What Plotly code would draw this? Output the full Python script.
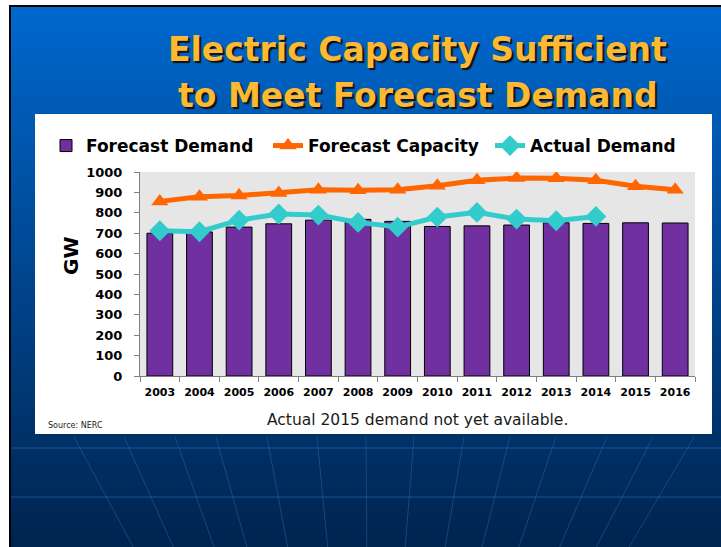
import plotly.graph_objects as go

years = ["2003", "2004", "2005", "2006", "2007", "2008", "2009",
         "2010", "2011", "2012", "2013", "2014", "2015", "2016"]
forecast_demand = [700, 706, 730, 746, 764, 768, 758, 733, 736, 740, 751, 748, 751, 750]
forecast_capacity = [856, 879, 885, 897, 913, 910, 913, 933, 959, 970, 969, 959, 930, 913]
actual_years = ["2003", "2004", "2005", "2006", "2007", "2008", "2009",
                "2010", "2011", "2012", "2013", "2014"]
actual_demand = [712, 707, 764, 794, 789, 753, 730, 779, 802, 769, 761, 782]

W, H = 721, 547
FONT = "DejaVu Sans"

def px(x):
    return x / W

def py(y):
    return 1 - y / H

fig = go.Figure()

fig.add_trace(go.Bar(
    x=years, y=forecast_demand, name="Forecast Demand",
    marker=dict(color="#7030A0", line=dict(color="#000000", width=1)),
))
fig.add_trace(go.Scatter(
    x=years, y=forecast_capacity, name="Forecast Capacity", mode="lines+markers",
    line=dict(color="#FF6600", width=5),
    marker=dict(symbol="triangle-up", size=15, color="#FF6600"),
))
fig.add_trace(go.Scatter(
    x=actual_years, y=actual_demand, name="Actual Demand", mode="lines+markers",
    line=dict(color="#33CCCC", width=5),
    marker=dict(symbol="diamond", size=16, color="#33CCCC"),
))

shapes = []
# background gradient (blue -> navy)
n = 60
top = (0, 104, 206)
bot = (0, 36, 80)
for i in range(n):
    t = i / (n - 1)
    c = tuple(int(round(top[k] + (bot[k] - top[k]) * t)) for k in range(3))
    y0 = H * i / n
    y1 = min(H * (i + 1) / n + 0.6, H)
    shapes.append(dict(type="rect", xref="paper", yref="paper", layer="below",
                       x0=0, x1=1, y0=py(y1), y1=py(y0),
                       line=dict(width=0), fillcolor="rgb(%d,%d,%d)" % c))
# decorative grid lines at the bottom
for yy in (448, 497):
    shapes.append(dict(type="line", xref="paper", yref="paper", layer="below",
                       x0=0, x1=1, y0=py(yy), y1=py(yy),
                       line=dict(color="rgba(60,130,210,0.45)", width=1)))
tops = [74, 124, 175, 216, 267, 317, 366, 414, 464, 510, 556, 607, 653, 694]
cx = 370
for xt in tops:
    xb = cx + (xt - cx) * 0.8
    shapes.append(dict(type="line", xref="paper", yref="paper", layer="below",
                       x0=px(xt), x1=px(xb), y0=py(437), y1=py(547),
                       line=dict(color="rgba(60,130,210,0.35)", width=1)))
# white margin + black edge top/left
shapes.append(dict(type="rect", xref="paper", yref="paper", layer="below",
                   x0=0, x1=1, y0=py(5), y1=1, line=dict(width=0), fillcolor="white"))
shapes.append(dict(type="rect", xref="paper", yref="paper", layer="below",
                   x0=0, x1=px(9), y0=0, y1=1, line=dict(width=0), fillcolor="white"))
shapes.append(dict(type="rect", xref="paper", yref="paper", layer="below",
                   x0=px(9), x1=1, y0=py(7), y1=py(5), line=dict(width=0), fillcolor="black"))
shapes.append(dict(type="rect", xref="paper", yref="paper", layer="below",
                   x0=px(9), x1=px(11), y0=0, y1=py(5), line=dict(width=0), fillcolor="black"))
# white chart panel
shapes.append(dict(type="rect", xref="paper", yref="paper", layer="below",
                   x0=px(35), x1=px(712), y0=py(434), y1=py(114),
                   line=dict(width=0), fillcolor="white"))
# gray plot area
shapes.append(dict(type="rect", xref="x domain", yref="y domain", layer="below",
                   x0=0, x1=1, y0=0, y1=1, line=dict(width=0), fillcolor="#E6E6E6"))

annotations = []
title_lines = [("Electric Capacity Sufficient", 417, 50),
               ("to Meet Forecast Demand", 418, 95)]
for txt, x, y in title_lines:
    annotations.append(dict(text="<b>%s</b>" % txt, xref="paper", yref="paper",
                            x=px(x), y=py(y), showarrow=False,
                            xanchor="center", yanchor="middle",
                            font=dict(family=FONT, size=33, color="#FDB933",
                                      shadow="2px 2px 1px #101010")))
annotations.append(dict(text="<b>GW</b>", xref="paper", yref="paper", textangle=-90,
                        x=px(71), y=py(256), showarrow=False, xanchor="center", yanchor="middle",
                        font=dict(family=FONT, size=20, color="black")))
annotations.append(dict(text="Actual 2015 demand not yet available.", xref="paper", yref="paper",
                        x=px(417), y=py(420), showarrow=False, xanchor="center", yanchor="middle",
                        font=dict(family=FONT, size=15.5, color="#1a1a1a")))
annotations.append(dict(text="Source: NERC", xref="paper", yref="paper",
                        x=px(46), y=py(425), showarrow=False, xanchor="left", yanchor="middle",
                        font=dict(family=FONT, size=8, color="#1a1a1a")))

fig.update_layout(
    width=W, height=H, autosize=False,
    margin=dict(l=0, r=0, t=0, b=0, autoexpand=False),
    paper_bgcolor="#0066CC", plot_bgcolor="rgba(0,0,0,0)",
    shapes=shapes, annotations=annotations,
    bargap=0.35,
    showlegend=True,
    legend=dict(orientation="h", x=px(46), y=py(146), xanchor="left", yanchor="middle",
                font=dict(family=FONT, size=17, color="black", weight="bold"),
                bgcolor="rgba(0,0,0,0)", itemwidth=30, traceorder="normal",
                entrywidth=177),
    xaxis=dict(domain=[px(140), px(695)], type="category",
               range=[-0.5, 13.5], autorange=False, automargin=False,
               showline=True, linecolor="#808080", linewidth=1,
               ticks="outside", tickson="boundaries", ticklen=5, tickcolor="#808080",
               tickangle=0, ticklabelstandoff=6,
               tickfont=dict(family=FONT, size=11, color="black", weight="bold"),
               showgrid=False, zeroline=False, fixedrange=True),
    yaxis=dict(domain=[py(376), py(172)], range=[0, 1000], dtick=100,
               autorange=False, automargin=False,
               showline=True, linecolor="#808080", linewidth=1,
               ticks="outside", ticklen=5, tickcolor="#808080",
               tickfont=dict(family=FONT, size=13, color="black", weight="bold"),
               ticklabelstandoff=9,
               showgrid=False, zeroline=False, fixedrange=True),
)

fig.write_html("out.html", config={"responsive": False, "displayModeBar": False},
               post_script="document.body.style.margin='0';document.body.style.padding='0';")
